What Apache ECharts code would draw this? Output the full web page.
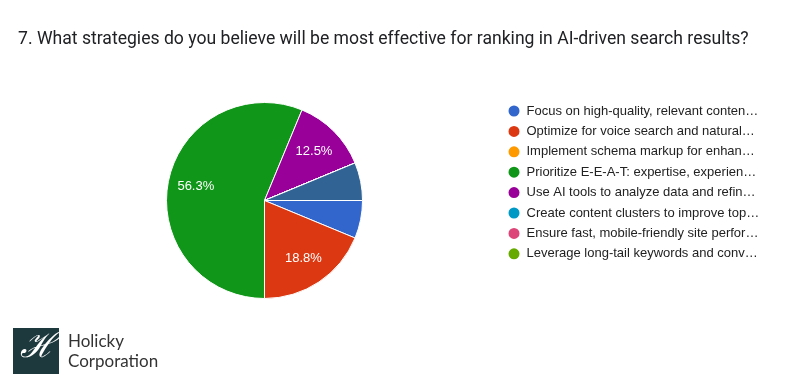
<!DOCTYPE html>
<html>
<head>
<meta charset="utf-8">
<script src="https://cdn.jsdelivr.net/npm/echarts@6/dist/echarts.min.js"></script>
<style>
html,body{margin:0;padding:0;background:#fff;}
#chart{width:800px;height:385px;}
</style>
</head>
<body>
<div id="chart"></div>
<script>
const titleText = "7. What strategies do you believe will be most effective for ranking in AI-driven search results?";
const categories = [
  "Focus on high-quality, relevant conten…",
  "Optimize for voice search and natural…",
  "Implement schema markup for enhan…",
  "Prioritize E-E-A-T: expertise, experien…",
  "Use AI tools to analyze data and refin…",
  "Create content clusters to improve top…",
  "Ensure fast, mobile-friendly site perfor…",
  "Leverage long-tail keywords and conv…",
  "Other"
];
const counts = [1, 3, 0, 9, 2, 0, 0, 0, 1];
const colors = ["#3366cc", "#dc3912", "#ff9900", "#109618", "#990099", "#0099c6", "#dd4477", "#66aa00", "#316395"];
const legendNames = categories.slice(0, 8);

const pieData = categories.map((c, i) => ({ name: c, value: counts[i], itemStyle: { color: colors[i] } }));

const chart = echarts.init(document.getElementById('chart'), null, { renderer: 'canvas' });
const center = [264.5, 200.5];
chart.setOption({
  animation: false,
  backgroundColor: '#ffffff',
  title: {
    text: titleText,
    left: 18, top: 31, padding: 0,
    textStyle: { fontFamily: 'Roboto', fontSize: 17.6, fontWeight: 'normal', color: '#202124' }
  },
  legend: {
    data: legendNames,
    orient: 'vertical',
    left: 506.5, top: 103.5, padding: 0,
    icon: 'circle',
    itemWidth: 13, itemHeight: 13,
    itemGap: 5.4,
    selectedMode: false,
    textStyle: { fontFamily: 'Liberation Sans', fontSize: 13, lineHeight: 12, color: '#222222', padding: [0, 0, 0, 1] }
  },
  series: [
    {
      type: 'pie',
      center: center,
      radius: [0, 98],
      startAngle: 0,
      clockwise: true,
      silent: true,
      itemStyle: { borderColor: '#ffffff', borderWidth: 1 },
      label: { show: false },
      labelLine: { show: false },
      data: pieData
    },
    {
      type: 'pie',
      center: center,
      radius: [36, 98],
      startAngle: 0,
      clockwise: true,
      silent: true,
      legendHoverLink: false,
      itemStyle: { color: 'rgba(0,0,0,0)', borderWidth: 0 },
      label: {
        show: true,
        position: 'inside',
        color: '#ffffff',
        fontFamily: 'Liberation Sans',
        fontSize: 13,
        formatter: p => (p.percent >= 10 ? p.percent.toFixed(1) + '%' : '')
      },
      labelLine: { show: false },
      data: categories.map((c, i) => ({ name: c + ' ', value: counts[i] }))
    }
  ],
  graphic: [
    { type: 'rect', left: 13, top: 328, shape: { width: 46, height: 46 }, style: { fill: '#1e393d' } },
    { type: 'text', left: 20, top: 331, style: { text: 'ℋ', fill: '#ffffff', font: 'italic 34px "DejaVu Serif"' } },
    { type: 'text', left: 68, top: 333, style: { text: 'Holicky', fill: '#333333', font: '17px Lato' } },
    { type: 'text', left: 68, top: 353, style: { text: 'Corporation', fill: '#333333', font: '17px Lato' } }
  ]
});
</script>
</body>
</html>
